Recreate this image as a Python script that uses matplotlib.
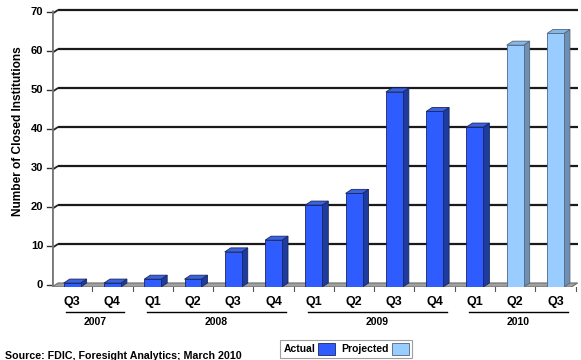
import matplotlib
matplotlib.use("Agg")
import matplotlib.pyplot as plt
from matplotlib.patches import Polygon, Rectangle

# ---- data ----
quarters = ["Q3", "Q4", "Q1", "Q2", "Q3", "Q4", "Q1", "Q2", "Q3", "Q4", "Q1", "Q2", "Q3"]
values = [1, 1, 2, 2, 9, 12, 21, 24, 50, 45, 41, 62, 65]
projected = [False] * 11 + [True, True]
years = ["2007", "2008", "2009", "2010"]
year_first = [0, 2, 6, 10]
year_last = [1, 5, 9, 12]
yticks = [0, 10, 20, 30, 40, 50, 60, 70]

plt.rcParams['font.family'] = ['Liberation Sans', 'DejaVu Sans']
plt.rcParams['font.weight'] = 'bold'

fig = plt.figure(figsize=(5.81, 3.60), dpi=100)
ax = fig.add_axes([52 / 581, 1 - 287 / 360, (578 - 52) / 581, (287 - 5) / 360])
ax.set_xlim(-0.5, 12.56)
ax.set_ylim(0, 72.3)
ax.axis('off')

dx = 0.15   # depth in x (category units)
dy = 1.03   # depth in y (value units)
bw = 0.42
xmin = -0.5
xmax_floor = 12.4

# back-wall gridlines + side-wall diagonals
for v in yticks[1:]:
    ax.plot([xmin, xmin + dx], [v, v + dy], color='#222222', lw=1.3, solid_capstyle='butt', zorder=1)
    ax.plot([xmin + dx, 12.56], [v + dy, v + dy], color='#1a1a1a', lw=1.6, solid_capstyle='butt', zorder=1)
    ax.plot([xmin - 0.12, xmin], [v + 0.5, v + 0.5], color='#333333', lw=1.0, clip_on=False, zorder=1)
ax.plot([xmin - 0.12, xmin], [0.5, 0.5], color='#333333', lw=1.0, clip_on=False, zorder=1)

# floor
floor = Polygon([(xmin, 0), (xmax_floor, 0), (xmax_floor + dx, dy), (xmin + dx, dy)],
                closed=True, facecolor='#a0a0a0', edgecolor='#707070', lw=0.8, zorder=2)
ax.add_patch(floor)

# left wall edge
ax.plot([xmin, xmin], [0, 70 + dy], color='#777777', lw=2.0, solid_capstyle='butt', zorder=3)

# x ticks below floor
for i in range(len(values)):
    ax.plot([i + 0.5, i + 0.5], [0, -1.0], color='#555555', lw=0.8, clip_on=False, zorder=2)

# bars (3D look)
for i, (v, p) in enumerate(zip(values, projected)):
    if p:
        front, side, top, edge = '#99ccff', '#6f90b2', '#8ab6e2', '#4f6680'
    else:
        front, side, top, edge = '#2f5cff', '#1e3c9e', '#3a63e0', '#1a2660'
    x0, x1 = i - bw / 2, i + bw / 2
    ax.add_patch(Polygon([(x1, 0), (x1 + dx, dy), (x1 + dx, v + dy), (x1, v)], closed=True,
                         facecolor=side, edgecolor=edge, lw=0.6, zorder=4))
    ax.add_patch(Polygon([(x0, v), (x0 + dx, v + dy), (x1 + dx, v + dy), (x1, v)], closed=True,
                         facecolor=top, edgecolor=edge, lw=0.6, zorder=4))
    ax.add_patch(Rectangle((x0, 0), bw, v, facecolor=front, edgecolor=edge, lw=0.6, zorder=5))

# y tick labels
for v in yticks:
    ax.text(xmin - 0.22, v + 0.5, str(v), ha='right', va='center', fontsize=8,
            fontweight='bold', clip_on=False)

# quarter labels
for i, q in enumerate(quarters):
    ax.text(i, -3.85, q, ha='center', va='center', fontsize=9, fontweight='bold', clip_on=False)

# year group lines and labels
for y, f, l in zip(years, year_first, year_last):
    s = max(f - 0.15, -0.47)
    e = l + 0.3
    ax.plot([s, e], [-6.4, -6.4], color='black', lw=1.0, clip_on=False)
    ax.text((s + e) / 2, -9.0, y, ha='center', va='center', fontsize=7.5,
            fontweight='bold', clip_on=False)

fig.text(18 / 581, 1 - 131 / 360, "Number of Closed Institutions", rotation=90,
         ha='center', va='center', fontsize=8.6, fontweight='bold')

fig.text(5 / 581, 1 - 356 / 360, "Source: FDIC, Foresight Analytics; March 2010",
         ha='left', va='center', fontsize=7.7, fontweight='bold')

handles = [Rectangle((0, 0), 1, 1, facecolor='#2f5cff', edgecolor='#1a2660', lw=0.6),
           Rectangle((0, 0), 1, 1, facecolor='#99ccff', edgecolor='#4f6680', lw=0.6)]
leg = fig.legend(handles, ["Actual", "Projected"], loc='center', ncol=2, markerfirst=False,
                 bbox_to_anchor=(346 / 581, 1 - 349 / 360), fontsize=7.5, frameon=True,
                 fancybox=False, edgecolor='#888888', handlelength=1.6, handleheight=1.3,
                 handletextpad=0.3, columnspacing=0.6, borderpad=0.3, borderaxespad=0)
leg.get_frame().set_linewidth(0.8)
for t in leg.get_texts():
    t.set_fontweight('bold')

fig.savefig("out.png", dpi=100)
